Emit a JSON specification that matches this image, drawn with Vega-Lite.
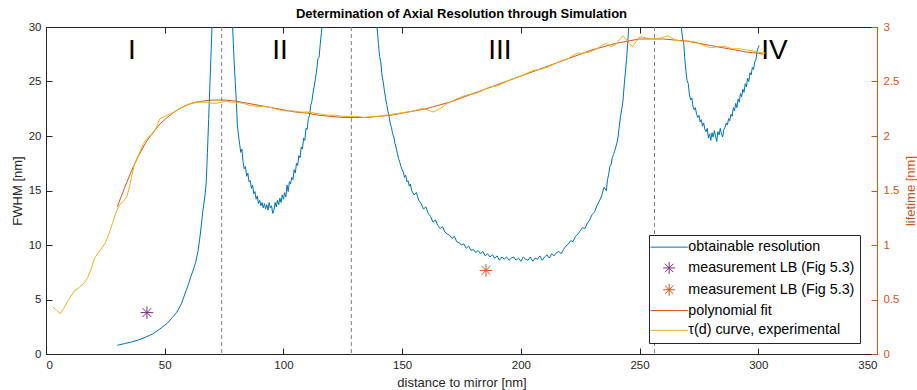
{
  "$schema": "https://vega.github.io/schema/vega-lite/v6.json",
  "width": 831,
  "height": 327,
  "autosize": {"type": "none"},
  "padding": {"left": 46, "top": 27, "right": 40, "bottom": 36},
  "background": "white",
  "title": {"text": "Determination of Axial Resolution through Simulation", "fontSize": 13, "fontWeight": "bold", "color": "#000000", "anchor": "middle", "frame": "group", "offset": 7, "dy": 17, "baseline": "alphabetic", "font": "Liberation Sans"},
  "config": {
    "font": "Liberation Sans",
    "view": {"stroke": "#262626", "strokeWidth": 1},
    "axis": {"grid": false, "domainColor": "#262626", "tickColor": "#262626", "labelColor": "#262626", "titleColor": "#262626", "labelFontSize": 11.5, "titleFontSize": 13, "titleFontWeight": "normal", "tickSize": -6, "labelPadding": 11, "domainWidth": 1, "tickWidth": 1, "labelFont": "Liberation Sans", "titleFont": "Liberation Sans"}
  },
  "datasets": {
    "blue": [
      {"x":30,"y":0.8,"s":1},{"x":33,"y":0.95,"s":1},{"x":36,"y":1.1,"s":1},{"x":39,"y":1.3,"s":1},{"x":42,"y":1.55,"s":1},{"x":45,"y":1.85,"s":1},{"x":48,"y":2.3,"s":1},{"x":51,"y":2.8,"s":1},{"x":53,"y":3.3,"s":1},{"x":55,"y":3.8,"s":1},{"x":57,"y":4.6,"s":1},{"x":59,"y":5.8,"s":1},{"x":60,"y":6.4,"s":1},{"x":61,"y":7.1,"s":1},{"x":62,"y":7.7,"s":1},{"x":63,"y":8.4,"s":1},{"x":64,"y":9.4,"s":1},{"x":65,"y":11.0,"s":1},{"x":66,"y":13.0,"s":1},{"x":67,"y":14.6,"s":1},{"x":67.5,"y":15.8,"s":1},{"x":68,"y":18.5,"s":1},{"x":68.5,"y":21.5,"s":1},{"x":69,"y":24.5,"s":1},{"x":69.5,"y":27.5,"s":1},{"x":70,"y":30.5,"s":1},{"x":70.3,"y":33,"s":1},
      {"x":78.4,"y":33,"s":2},{"x":78.6,"y":30,"s":2},{"x":79.2,"y":27,"s":2},{"x":79.7,"y":25,"s":2},{"x":80.2,"y":23,"s":2},{"x":80.6,"y":21,"s":2},{"x":81.1,"y":20,"s":2},{"x":81.6,"y":19.2,"s":2},{"x":82,"y":18.5,"s":2},{"x":82.5,"y":18.8,"s":2},{"x":83,"y":17.6,"s":2},{"x":83.5,"y":17.0,"s":2},{"x":84,"y":17.2,"s":2},{"x":84.5,"y":16.3,"s":2},{"x":85,"y":16.6,"s":2},{"x":85.5,"y":15.8,"s":2},{"x":86,"y":15.9,"s":2},{"x":86.5,"y":15.2,"s":2},{"x":87,"y":15.5,"s":2},{"x":87.5,"y":14.7,"s":2},{"x":88,"y":14.9,"s":2},{"x":88.5,"y":14.2,"s":2},{"x":89,"y":14.5,"s":2},{"x":89.5,"y":13.8,"s":2},{"x":90,"y":14.1,"s":2},{"x":90.5,"y":13.6,"s":2},{"x":91,"y":13.9,"s":2},{"x":91.5,"y":13.4,"s":2},{"x":92,"y":13.8,"s":2},{"x":92.5,"y":13.3,"s":2},{"x":93,"y":13.7,"s":2},{"x":93.5,"y":13.2,"s":2},{"x":94,"y":13.9,"s":2},{"x":94.5,"y":13.4,"s":2},{"x":95,"y":13.6,"s":2},{"x":95.5,"y":12.9,"s":2},{"x":96,"y":13.2,"s":2},{"x":96.5,"y":13.9,"s":2},{"x":97,"y":13.5,"s":2},{"x":97.5,"y":14.1,"s":2},{"x":98,"y":13.7,"s":2},{"x":98.5,"y":14.3,"s":2},{"x":99,"y":13.9,"s":2},{"x":99.5,"y":14.6,"s":2},{"x":100,"y":14.2,"s":2},{"x":100.5,"y":14.8,"s":2},{"x":101,"y":14.4,"s":2},{"x":101.5,"y":15.5,"s":2},{"x":102,"y":14.9,"s":2},{"x":102.5,"y":15.8,"s":2},{"x":103,"y":15.6,"s":2},{"x":103.5,"y":16.2,"s":2},{"x":104,"y":16.0,"s":2},{"x":104.5,"y":16.9,"s":2},{"x":105,"y":16.6,"s":2},{"x":105.5,"y":17.5,"s":2},{"x":106,"y":17.3,"s":2},{"x":106.5,"y":18.2,"s":2},{"x":107,"y":18.0,"s":2},{"x":107.5,"y":19.0,"s":2},{"x":108,"y":18.8,"s":2},{"x":108.5,"y":19.8,"s":2},{"x":109,"y":19.6,"s":2},{"x":109.5,"y":20.7,"s":2},{"x":110,"y":20.6,"s":2},{"x":110.5,"y":21.6,"s":2},{"x":111,"y":21.9,"s":2},{"x":111.5,"y":22.8,"s":2},{"x":112,"y":23.2,"s":2},{"x":112.5,"y":24.0,"s":2},{"x":113,"y":24.6,"s":2},{"x":113.5,"y":25.3,"s":2},{"x":114,"y":26.0,"s":2},{"x":114.5,"y":27.1,"s":2},{"x":115,"y":27.2,"s":2},{"x":115.5,"y":28.4,"s":2},{"x":116,"y":29.5,"s":2},{"x":116.3,"y":30.2,"s":2},{"x":116.6,"y":33,"s":2},
      {"x":139.2,"y":33,"s":3},{"x":139.4,"y":30,"s":3},{"x":140,"y":28.5,"s":3},{"x":140.5,"y":27.3,"s":3},{"x":141,"y":26.8,"s":3},{"x":141.5,"y":25.6,"s":3},{"x":142,"y":25.0,"s":3},{"x":142.5,"y":24.2,"s":3},{"x":143,"y":23.5,"s":3},{"x":143.5,"y":22.9,"s":3},{"x":144,"y":22.3,"s":3},{"x":144.5,"y":21.8,"s":3},{"x":145,"y":21.1,"s":3},{"x":145.5,"y":20.8,"s":3},{"x":146,"y":20.2,"s":3},{"x":146.5,"y":19.9,"s":3},{"x":147,"y":19.3,"s":3},{"x":147.5,"y":18.9,"s":3},{"x":148,"y":18.4,"s":3},{"x":148.5,"y":17.9,"s":3},{"x":149,"y":17.6,"s":3},{"x":149.5,"y":17.2,"s":3},{"x":150,"y":16.9,"s":3},{"x":150.5,"y":16.7,"s":3},{"x":151,"y":16.2,"s":3},{"x":151.5,"y":16.4,"s":3},{"x":152,"y":15.8,"s":3},{"x":152.5,"y":15.9,"s":3},{"x":153,"y":15.4,"s":3},{"x":153.5,"y":15.6,"s":3},{"x":154,"y":15.0,"s":3},{"x":155,"y":14.6,"s":3},{"x":156,"y":14.8,"s":3},{"x":157,"y":14.1,"s":3},{"x":158,"y":13.8,"s":3},{"x":159,"y":13.3,"s":3},{"x":160,"y":13.5,"s":3},{"x":161,"y":12.9,"s":3},{"x":162,"y":12.6,"s":3},{"x":163,"y":12.1,"s":3},{"x":164,"y":12.3,"s":3},{"x":165,"y":11.8,"s":3},{"x":166,"y":11.5,"s":3},{"x":167,"y":11.7,"s":3},{"x":168,"y":11.2,"s":3},{"x":169,"y":11.0,"s":3},{"x":170,"y":10.9,"s":3},{"x":171,"y":10.6,"s":3},{"x":172,"y":10.8,"s":3},{"x":173,"y":10.3,"s":3},{"x":174,"y":10.2,"s":3},{"x":175,"y":10.0,"s":3},{"x":176,"y":10.1,"s":3},{"x":177,"y":9.7,"s":3},{"x":178,"y":9.9,"s":3},{"x":179,"y":9.5,"s":3},{"x":180,"y":9.6,"s":3},{"x":181,"y":9.3,"s":3},{"x":182,"y":9.5,"s":3},{"x":183,"y":9.2,"s":3},{"x":184,"y":9.4,"s":3},{"x":185,"y":9.0,"s":3},{"x":186,"y":9.2,"s":3},{"x":187,"y":8.9,"s":3},{"x":188,"y":9.1,"s":3},{"x":189,"y":8.8,"s":3},{"x":190,"y":9.0,"s":3},{"x":191,"y":8.6,"s":3},{"x":192,"y":8.9,"s":3},{"x":193,"y":8.7,"s":3},{"x":194,"y":8.9,"s":3},{"x":195,"y":8.6,"s":3},{"x":196,"y":8.8,"s":3},{"x":197,"y":8.9,"s":3},{"x":198,"y":8.6,"s":3},{"x":199,"y":8.8,"s":3},{"x":200,"y":8.5,"s":3},{"x":201,"y":8.9,"s":3},{"x":202,"y":8.7,"s":3},{"x":203,"y":8.6,"s":3},{"x":204,"y":8.9,"s":3},{"x":205,"y":8.5,"s":3},{"x":206,"y":8.8,"s":3},{"x":207,"y":8.7,"s":3},{"x":208,"y":9.0,"s":3},{"x":209,"y":8.6,"s":3},{"x":210,"y":8.9,"s":3},{"x":211,"y":9.1,"s":3},{"x":212,"y":8.8,"s":3},{"x":213,"y":9.2,"s":3},{"x":214,"y":9.0,"s":3},{"x":215,"y":9.3,"s":3},{"x":216,"y":9.4,"s":3},{"x":217,"y":9.2,"s":3},{"x":218,"y":9.6,"s":3},{"x":219,"y":9.9,"s":3},{"x":220,"y":10.1,"s":3},{"x":221,"y":10.4,"s":3},{"x":222,"y":10.3,"s":3},{"x":223,"y":10.8,"s":3},{"x":224,"y":11.0,"s":3},{"x":225,"y":11.3,"s":3},{"x":226,"y":11.6,"s":3},{"x":227,"y":11.5,"s":3},{"x":228,"y":12.0,"s":3},{"x":229,"y":12.3,"s":3},{"x":230,"y":12.8,"s":3},{"x":231,"y":13.0,"s":3},{"x":232,"y":13.6,"s":3},{"x":233,"y":14.0,"s":3},{"x":234,"y":14.5,"s":3},{"x":235,"y":15.3,"s":3},{"x":236,"y":15.0,"s":3},{"x":236.5,"y":16.0,"s":3},{"x":237,"y":16.5,"s":3},{"x":237.5,"y":17.2,"s":3},{"x":238,"y":17.4,"s":3},{"x":238.5,"y":18.0,"s":3},{"x":239,"y":18.3,"s":3},{"x":239.5,"y":18.6,"s":3},{"x":240,"y":19.0,"s":3},{"x":240.5,"y":19.4,"s":3},{"x":241,"y":20.0,"s":3},{"x":241.5,"y":21.0,"s":3},{"x":242,"y":21.8,"s":3},{"x":242.5,"y":22.5,"s":3},{"x":243,"y":23.2,"s":3},{"x":243.5,"y":24.6,"s":3},{"x":244,"y":25.8,"s":3},{"x":244.5,"y":27.0,"s":3},{"x":245,"y":28.5,"s":3},{"x":245.4,"y":30.0,"s":3},{"x":245.7,"y":33,"s":3},
      {"x":267.4,"y":33,"s":4},{"x":267.6,"y":30,"s":4},{"x":268.1,"y":29,"s":4},{"x":268.6,"y":28.5,"s":4},{"x":269,"y":27.2,"s":4},{"x":269.5,"y":26.0,"s":4},{"x":270,"y":25.1,"s":4},{"x":270.5,"y":24.8,"s":4},{"x":271,"y":23.8,"s":4},{"x":271.5,"y":23.3,"s":4},{"x":272,"y":23.5,"s":4},{"x":272.5,"y":22.7,"s":4},{"x":273,"y":22.4,"s":4},{"x":273.5,"y":22.6,"s":4},{"x":274,"y":22.0,"s":4},{"x":274.5,"y":21.7,"s":4},{"x":275,"y":21.9,"s":4},{"x":275.5,"y":21.3,"s":4},{"x":276,"y":21.5,"s":4},{"x":276.5,"y":20.9,"s":4},{"x":277,"y":21.2,"s":4},{"x":277.5,"y":20.6,"s":4},{"x":278,"y":20.4,"s":4},{"x":278.5,"y":20.7,"s":4},{"x":279,"y":19.8,"s":4},{"x":279.5,"y":20.2,"s":4},{"x":280,"y":19.6,"s":4},{"x":280.5,"y":20.3,"s":4},{"x":281,"y":19.9,"s":4},{"x":281.5,"y":20.5,"s":4},{"x":282,"y":20.0,"s":4},{"x":282.5,"y":19.5,"s":4},{"x":283,"y":20.4,"s":4},{"x":283.5,"y":20.1,"s":4},{"x":284,"y":20.7,"s":4},{"x":284.5,"y":20.2,"s":4},{"x":285,"y":19.9,"s":4},{"x":285.5,"y":20.6,"s":4},{"x":286,"y":20.8,"s":4},{"x":286.5,"y":21.2,"s":4},{"x":287,"y":21.0,"s":4},{"x":287.5,"y":21.6,"s":4},{"x":288,"y":21.4,"s":4},{"x":288.5,"y":22.0,"s":4},{"x":289,"y":21.8,"s":4},{"x":289.5,"y":22.6,"s":4},{"x":290,"y":22.3,"s":4},{"x":290.5,"y":23.0,"s":4},{"x":291,"y":22.6,"s":4},{"x":291.5,"y":23.4,"s":4},{"x":292,"y":23.1,"s":4},{"x":292.5,"y":23.9,"s":4},{"x":293,"y":23.6,"s":4},{"x":293.5,"y":24.3,"s":4},{"x":294,"y":24.0,"s":4},{"x":294.5,"y":24.8,"s":4},{"x":295,"y":24.5,"s":4},{"x":295.5,"y":25.3,"s":4},{"x":296,"y":25.0,"s":4},{"x":296.5,"y":25.8,"s":4},{"x":297,"y":25.6,"s":4},{"x":297.5,"y":26.3,"s":4},{"x":298,"y":26.1,"s":4},{"x":298.5,"y":26.8,"s":4},{"x":299,"y":27.0,"s":4},{"x":299.5,"y":27.8,"s":4},{"x":300,"y":28.1,"s":4},{"x":300.3,"y":28.3,"s":4}
    ],
    "exp": [
      {"x":3,"t":0.43},{"x":4.5,"t":0.40},{"x":6,"t":0.37},{"x":7.5,"t":0.42},{"x":9,"t":0.48},{"x":10.5,"t":0.53},{"x":12,"t":0.58},{"x":14,"t":0.61},{"x":16,"t":0.65},{"x":17.5,"t":0.70},{"x":19,"t":0.78},{"x":20.5,"t":0.88},{"x":22,"t":0.93},{"x":23.5,"t":0.97},{"x":25,"t":1.02},{"x":26.5,"t":1.10},{"x":28,"t":1.20},{"x":29.5,"t":1.30},{"x":31,"t":1.37},{"x":32.5,"t":1.40},{"x":34,"t":1.44},{"x":35,"t":1.52},{"x":36,"t":1.62},{"x":37,"t":1.72},{"x":38,"t":1.78},{"x":39.5,"t":1.85},{"x":41,"t":1.93},{"x":43,"t":1.99},{"x":45,"t":2.02},{"x":46.5,"t":2.08},{"x":48,"t":2.16},{"x":50,"t":2.18},{"x":52,"t":2.20},{"x":54,"t":2.22},{"x":56,"t":2.25},{"x":58,"t":2.27},{"x":60,"t":2.29},{"x":62,"t":2.30},{"x":64,"t":2.31},{"x":66,"t":2.31},{"x":68,"t":2.31},{"x":70,"t":2.30},{"x":72,"t":2.30},{"x":74,"t":2.31},{"x":76,"t":2.32},{"x":78,"t":2.31},{"x":80,"t":2.31},{"x":83,"t":2.30},{"x":86,"t":2.28},{"x":89,"t":2.27},{"x":92,"t":2.27},{"x":95,"t":2.26},{"x":98,"t":2.24},{"x":101,"t":2.23},{"x":104,"t":2.23},{"x":107,"t":2.22},{"x":110,"t":2.22},{"x":113,"t":2.21},{"x":116,"t":2.20},{"x":119,"t":2.19},{"x":122,"t":2.19},{"x":125,"t":2.18},{"x":128,"t":2.18},{"x":131,"t":2.18},{"x":134,"t":2.17},{"x":137,"t":2.18},{"x":140,"t":2.18},{"x":143,"t":2.19},{"x":146,"t":2.20},{"x":149,"t":2.21},{"x":152,"t":2.22},{"x":155,"t":2.23},{"x":158,"t":2.25},{"x":161,"t":2.24},{"x":163,"t":2.22},{"x":166,"t":2.25},{"x":169,"t":2.30},{"x":172,"t":2.33},{"x":175,"t":2.36},{"x":178,"t":2.38},{"x":181,"t":2.39},{"x":184,"t":2.42},{"x":187,"t":2.45},{"x":190,"t":2.46},{"x":193,"t":2.49},{"x":196,"t":2.52},{"x":199,"t":2.54},{"x":202,"t":2.57},{"x":205,"t":2.60},{"x":208,"t":2.61},{"x":211,"t":2.63},{"x":214,"t":2.66},{"x":217,"t":2.69},{"x":220,"t":2.71},{"x":222,"t":2.74},{"x":224,"t":2.76},{"x":226,"t":2.76},{"x":229,"t":2.77},{"x":232,"t":2.80},{"x":234,"t":2.83},{"x":236,"t":2.85},{"x":238,"t":2.82},{"x":240,"t":2.84},{"x":243,"t":2.92},{"x":245,"t":2.87},{"x":247,"t":2.82},{"x":250,"t":2.91},{"x":253,"t":2.90},{"x":256,"t":2.89},{"x":259,"t":2.90},{"x":262,"t":2.92},{"x":265,"t":2.88},{"x":268,"t":2.87},{"x":271,"t":2.87},{"x":274,"t":2.86},{"x":277,"t":2.83},{"x":280,"t":2.81},{"x":283,"t":2.82},{"x":286,"t":2.82},{"x":289,"t":2.80},{"x":292,"t":2.80},{"x":295,"t":2.79},{"x":298,"t":2.78},{"x":300,"t":2.77},{"x":303,"t":2.76}
    ],
    "fit": [
      {"x":30,"t":1.35},{"x":33,"t":1.52},{"x":36,"t":1.68},{"x":39,"t":1.82},{"x":42,"t":1.94},{"x":45,"t":2.03},{"x":48,"t":2.11},{"x":51,"t":2.17},{"x":54,"t":2.22},{"x":57,"t":2.26},{"x":60,"t":2.29},{"x":63,"t":2.31},{"x":66,"t":2.32},{"x":70,"t":2.33},{"x":75,"t":2.33},{"x":80,"t":2.32},{"x":85,"t":2.30},{"x":90,"t":2.28},{"x":95,"t":2.26},{"x":100,"t":2.24},{"x":105,"t":2.22},{"x":110,"t":2.21},{"x":115,"t":2.19},{"x":120,"t":2.18},{"x":125,"t":2.17},{"x":130,"t":2.17},{"x":135,"t":2.17},{"x":140,"t":2.18},{"x":145,"t":2.19},{"x":150,"t":2.21},{"x":155,"t":2.23},{"x":160,"t":2.25},{"x":165,"t":2.28},{"x":170,"t":2.31},{"x":175,"t":2.35},{"x":180,"t":2.39},{"x":185,"t":2.43},{"x":190,"t":2.47},{"x":195,"t":2.51},{"x":200,"t":2.55},{"x":205,"t":2.59},{"x":210,"t":2.63},{"x":215,"t":2.67},{"x":220,"t":2.71},{"x":225,"t":2.75},{"x":230,"t":2.79},{"x":235,"t":2.82},{"x":240,"t":2.85},{"x":245,"t":2.87},{"x":250,"t":2.89},{"x":255,"t":2.89},{"x":260,"t":2.89},{"x":265,"t":2.88},{"x":270,"t":2.87},{"x":275,"t":2.85},{"x":280,"t":2.83},{"x":285,"t":2.81},{"x":290,"t":2.79},{"x":295,"t":2.77},{"x":300,"t":2.76},{"x":302,"t":2.75}
    ],
    "stars": [
      {"x":42.5,"y":3.8,"c":"measurement LB (Fig 5.3)"},
      {"x":185.3,"y":7.67,"c":"measurement LB (Fig 5.3) "}
    ],
    "vlines": [{"x":74},{"x":128.6},{"x":256.3}],
    "labels": [
      {"t":"I","x":36.2,"y":27.1},
      {"t":"II","x":98.6,"y":27.1},
      {"t":"III","x":191.2,"y":27.1},
      {"t":"IV","x":306.8,"y":27.1}
    ]
  },
  "layer": [
    {
      "layer": [
        {
          "data": {"name": "blue"},
          "mark": {"type": "line", "clip": true, "strokeWidth": 1},
          "encoding": {
            "x": {"field": "x", "type": "quantitative", "scale": {"domain": [0, 350], "nice": false}, "axis": {"orient": "bottom", "values": [0,50,100,150,200,250,300,350], "title": "distance to mirror [nm]", "titlePadding": 6}},
            "y": {"field": "y", "type": "quantitative", "scale": {"domain": [0, 30], "nice": false}, "axis": {"orient": "left", "values": [0,5,10,15,20,25,30], "title": "FWHM [nm]", "titlePadding": 4}},
            "detail": {"field": "s"},
            "order": {"field": "x"},
            "color": {
              "datum": "obtainable resolution",
              "scale": {"domain": ["obtainable resolution", "measurement LB (Fig 5.3)", "measurement LB (Fig 5.3) ", "polynomial fit", "τ(d) curve, experimental"], "range": ["#0072BD", "#7E2F8E", "#D95319", "#D95319", "#EDB120"]},
              "legend": {
                "title": null, "orient": "none", "legendX": 603, "legendY": 208, "direction": "vertical",
                "labelFontSize": 14.3, "labelColor": "#000000", "labelFont": "Liberation Sans", "labelLimit": 400,
                "symbolSize": 144, "symbolOffset": 8, "labelOffset": 12, "symbolStrokeWidth": 1,
                "strokeColor": "#262626", "fillColor": "#ffffff", "padding": 5, "rowPadding": 4.8,
                "encode": {"symbols": {"update": {
                  "shape": {"signal": "indexof(datum.value, 'measurement') >= 0 ? 'M0,-1L0,1M-1,0L1,0M-0.7,-0.7L0.7,0.7M-0.7,0.7L0.7,-0.7' : 'M-3.1,0L3.1,0'"},
                  "stroke": {"signal": "scale('color', datum.value)"},
                  "fill": {"value": "transparent"},
                  "strokeWidth": {"value": 1}
                }}}
              }
            }
          }
        },
        {
          "data": {"name": "stars"},
          "mark": {"type": "point", "shape": "M0,-1L0,1M-1,0L1,0M-0.7,-0.7L0.7,0.7M-0.7,0.7L0.7,-0.7", "filled": false, "size": 160, "strokeWidth": 1, "opacity": 1},
          "encoding": {
            "x": {"field": "x", "type": "quantitative"},
            "y": {"field": "y", "type": "quantitative"},
            "color": {"field": "c", "type": "nominal", "title": null}
          }
        },
        {
          "data": {"name": "vlines"},
          "mark": {"type": "rule", "color": "#7f7f7f", "strokeDash": [4, 3], "strokeWidth": 1},
          "encoding": {"x": {"field": "x", "type": "quantitative"}}
        },
        {
          "data": {"name": "labels"},
          "mark": {"type": "text", "fontSize": 28, "font": "Liberation Sans", "color": "#000000", "align": "center", "baseline": "alphabetic"},
          "encoding": {
            "x": {"field": "x", "type": "quantitative"},
            "y": {"field": "y", "type": "quantitative"},
            "text": {"field": "t"}
          }
        }
      ]
    },
    {
      "layer": [
        {
          "data": {"name": "fit"},
          "mark": {"type": "line", "strokeWidth": 1, "clip": true},
          "encoding": {
            "x": {"field": "x", "type": "quantitative", "axis": {"orient": "top", "values": [0,50,100,150,200,250,300,350], "labels": false, "title": null}},
            "y": {"field": "t", "type": "quantitative", "scale": {"domain": [0, 3], "nice": false}, "axis": {"orient": "right", "values": [0,0.5,1,1.5,2,2.5,3], "format": "~g", "title": "lifetime [nm]", "domainColor": "#D95319", "tickColor": "#D95319", "labelColor": "#D95319", "titleColor": "#D95319", "labelPadding": 12, "titleAngle": -90, "titleBaseline": "top", "titlePadding": 6}},
            "color": {"datum": "polynomial fit"}
          }
        },
        {
          "data": {"name": "exp"},
          "mark": {"type": "line", "strokeWidth": 1, "clip": true},
          "encoding": {
            "x": {"field": "x", "type": "quantitative"},
            "y": {"field": "t", "type": "quantitative"},
            "color": {"datum": "τ(d) curve, experimental"}
          }
        }
      ]
    }
  ],
  "resolve": {"scale": {"y": "independent"}, "axis": {"x": "independent"}}
}
